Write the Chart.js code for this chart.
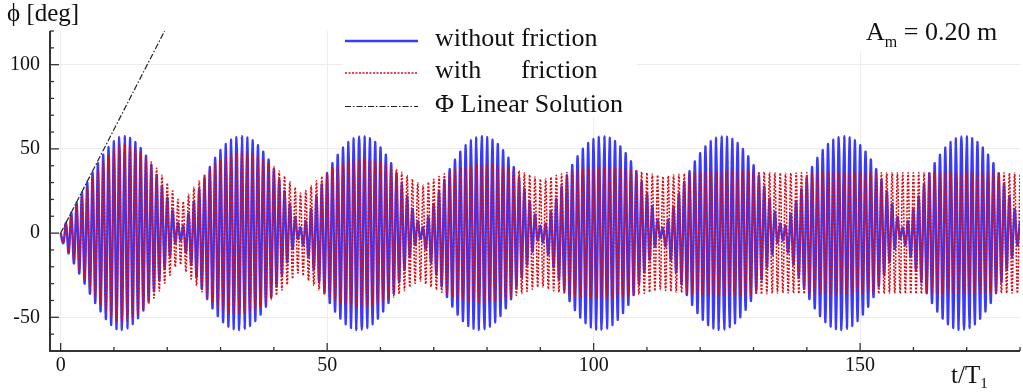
<!DOCTYPE html>
<html>
<head>
    <meta charset="utf-8" />
    <title>phi - t/T1</title>
    <script src="https://cdn.jsdelivr.net/npm/chart.js@4.4.0/dist/chart.umd.min.js"></script>
    <style>
        body { margin: 0; background: #fff; }
        canvas { display: block; }
    </style>
</head>
<body>

<canvas id="phi" width="1023" height="392"></canvas>

<script>
    // peak amplitude of each cycle (peak at t = k, trough at k - 0.5)
    var blueAmp = [
        6, 12, 18, 24, 30, 36, 41.5, 46.5, 51, 54.5, 57, 57.5, 56.5, 54, 50.5, 46, 40.5, 34.5, 28, 21, 13.5, 6,
        4.4, 11.5, 18.8, 26.2, 33, 39.2, 44.7, 49.3, 52.9, 55.5, 57, 57.5, 56.8, 55.1, 52.2, 48.4, 43.7, 38, 31.7, 24.8, 17.3, 9.5, 3.4,
        7.1, 14.2, 21.8, 29, 35.6, 41.5, 46.6, 50.8, 54.1, 56.3, 57.4, 57.4, 56.3, 54.1, 50.8, 46.6, 41.5, 35.6, 29, 21.8, 14.2, 7.1,
        3.4, 9.6, 17.3, 24.7, 31.7, 38, 43.6, 48.4, 52.2, 55.1, 56.8, 57.5, 57, 55.5, 52.9, 49.2, 44.7, 39.2, 33, 26.2, 18.8, 11.1, 4.4,
        5.6, 12.7, 20.3, 27.6, 34.3, 40.4, 45.7, 50.1, 53.5, 55.9, 57.2, 57.4, 56.6, 54.6, 51.5, 47.5, 42.6, 36.8, 30.4, 23.3, 15.8, 8,
        3, 8, 15.8, 23.3, 30.4, 36.8, 42.6, 47.5, 51.5, 54.6, 56.6, 57.4, 57.2, 55.9, 53.5, 50, 45.6, 40.3, 34.3, 27.6, 20.3, 12.7, 5.7,
        4.4, 11.5, 18.8, 26.2, 33, 39.2, 44.7, 49.3, 52.9, 55.5, 57, 57.5, 56.8, 55.1, 52.2, 48.4, 43.7, 38, 31.7, 24.8, 17.3, 9.5, 3.4,
        7.1, 14.2, 21.8, 29, 35.6, 41.5, 46.6, 50.8, 54.1, 56.3, 57.4, 57.4, 56.3, 54.1, 50.8, 46.6, 41.5, 35.6, 29, 21.8, 14.2, 7.1
    ];
    var redAmp = [
        5.5, 11, 16.5, 22, 27.5, 33, 38, 42.5, 46.5, 50, 52.5, 52.8, 52, 50.5, 48.3, 45.6, 42.2, 38.5, 34.3, 29.7, 25, 20,
        18.7, 23, 27.2, 31.1, 34.8, 38.1, 41.1, 43.6, 45.5, 46.9, 47.8, 48, 47.7, 46.9, 45.7, 44, 42, 39.5, 36.8, 33.8, 30.5, 27.1, 23.7,
        25.3, 28.2, 31, 33.6, 36, 38.2, 40, 41.6, 42.7, 43.5, 43.9, 44, 43.7, 43, 42.1, 41, 39.5, 37.9, 36.1, 34.1, 32, 29.8,
        28.4, 30.2, 31.9, 33.6, 35.2, 36.6, 37.9, 38.9, 39.8, 40.5, 40.8, 41, 40.9, 40.7, 40.2, 39.6, 38.9, 38, 37, 35.8, 34.6, 33.3, 32,
        32.1, 33.2, 34.2, 35.1, 36, 36.8, 37.5, 38, 38.5, 38.8, 39, 39, 38.9, 38.7, 38.4, 38, 37.6, 37, 36.4, 35.7, 35, 34.3,
        33.5, 34, 34.5, 34.9, 35.3, 35.7, 36.1, 36.4, 36.6, 36.8, 36.9, 37, 37, 36.9, 36.9, 36.8, 36.7, 36.6, 36.4, 36.2, 36, 35.8, 35.6,
        35.5, 35.6, 35.7, 35.8, 35.9, 36, 36.1, 36.2, 36.2, 36.3, 36.3, 36.3, 36.2, 36.2, 36.1, 36.1, 36, 36, 35.9, 35.9, 35.8, 35.8, 35.8,
        35.8, 35.8, 35.9, 35.9, 36, 36, 36, 36, 36, 35.9, 35.9, 35.9, 35.8, 35.8, 35.8, 35.7, 35.7, 35.7, 35.7, 35.6, 35.6, 35.6
    ];
    // linear solution (straight line from the origin, leaves the plot at the top)
    var linT = [0, 19.5];
    var linPhi = [0, 120];

    var serif = '"Liberation Serif", "Times New Roman", "DejaVu Serif", serif';

    function oscil(amp) {
        var pts = [{x: 0, y: 0}];
        for (var k = 1; k <= amp.length; k++) {
            pts.push({x: k - 0.5, y: -amp[k - 1]});
            pts.push({x: k, y: amp[k - 1]});
        }
        return pts;
    }

    var linPts = [];
    for (var i = 0; i < linT.length; i++) linPts.push({x: linT[i], y: linPhi[i]});

    var blueCol = 'rgba(40,40,255,0.92)';
    var redCol = '#dd0a14';
    var blackCol = '#222';

    // axes, inward ticks, titles, legend
    var deco = {
        id: 'deco',
        afterDatasetsDraw: function (chart) {
            var ctx = chart.ctx, a = chart.chartArea, sx = chart.scales.x, sy = chart.scales.y;
            ctx.save();
            ctx.strokeStyle = '#333';
            ctx.lineWidth = 2;
            ctx.beginPath();
            ctx.moveTo(a.left, a.top);
            ctx.lineTo(a.left, a.bottom);
            ctx.lineTo(a.right, a.bottom);
            ctx.stroke();

            ctx.lineWidth = 1.3;
            sx.ticks.forEach(function (t) {
                var px = sx.getPixelForValue(t.value);
                var len = t.value % 50 === 0 ? 8 : 4;
                ctx.beginPath();
                ctx.moveTo(px, a.bottom);
                ctx.lineTo(px, a.bottom - len);
                ctx.stroke();
            });
            sy.ticks.forEach(function (t) {
                var py = sy.getPixelForValue(t.value);
                var len = t.value % 50 === 0 ? 9 : 4;
                ctx.beginPath();
                ctx.moveTo(a.left, py);
                ctx.lineTo(a.left + len, py);
                ctx.stroke();
            });

            ctx.fillStyle = '#111';
            ctx.textBaseline = 'alphabetic';
            ctx.textAlign = 'left';

            // y title
            ctx.font = '25px ' + serif;
            ctx.fillText('ϕ [deg]', 7, 21);

            // x title
            ctx.font = '25px ' + serif;
            ctx.fillText('t/T', 951, 383);
            var w = ctx.measureText('t/T').width;
            ctx.font = '15px ' + serif;
            ctx.fillText('1', 951 + w, 388);

            // A_m label
            ctx.fillStyle = '#fff';
            ctx.fillRect(856, 18, 150, 34);
            ctx.fillStyle = '#111';
            ctx.font = '26px ' + serif;
            ctx.fillText('A', 866, 40);
            var xa = 866 + ctx.measureText('A').width;
            ctx.font = '16px ' + serif;
            ctx.fillText('m', xa, 46.5);
            xa += ctx.measureText('m').width;
            ctx.font = '26px ' + serif;
            ctx.fillText(' = 0.20 m', xa, 40);

            // legend
            ctx.fillStyle = '#fff';
            ctx.fillRect(343, 18, 294, 99);
            var rows = [
                {y: 41, col: blueCol, w: 2.4, dash: []},
                {y: 73, col: redCol, w: 1.6, dash: [2, 1.5]},
                {y: 106.5, col: blackCol, w: 1.2, dash: [6, 2, 1.5, 2]}
            ];
            rows.forEach(function (r) {
                ctx.strokeStyle = r.col;
                ctx.lineWidth = r.w;
                ctx.setLineDash(r.dash);
                ctx.beginPath();
                ctx.moveTo(345, r.y);
                ctx.lineTo(418, r.y);
                ctx.stroke();
            });
            ctx.setLineDash([]);
            ctx.fillStyle = '#111';
            ctx.font = '26px ' + serif;
            ctx.fillText('without friction', 435, 45.5);
            var fx = 435 + ctx.measureText('without ').width;
            ctx.fillText('with', 435, 78);
            ctx.fillText('friction', fx, 78);
            ctx.fillText('Φ Linear Solution', 435, 111.5);
            ctx.restore();
        }
    };

    var ctx = document.getElementById('phi').getContext('2d');
    var phiChart = new Chart(ctx, {
        type: 'line',
        data: {
            datasets: [
                {
                    label: 'Φ Linear Solution',
                    data: linPts,
                    borderColor: blackCol,
                    borderWidth: 1.2,
                    borderDash: [6, 2, 1.5, 2],
                    pointRadius: 0,
                    order: 1
                },
                {
                    label: 'with friction',
                    data: oscil(redAmp),
                    borderColor: redCol,
                    borderWidth: 1.6,
                    borderDash: [2, 1.5],
                    pointRadius: 0,
                    tension: 0.35,
                    order: 2
                },
                {
                    label: 'without friction',
                    data: oscil(blueAmp),
                    borderColor: blueCol,
                    borderWidth: 2.4,
                    pointRadius: 0,
                    tension: 0.35,
                    order: 3
                }
            ]
        },
        options: {
            responsive: false,
            animation: false,
            events: [],
            layout: { padding: { top: 31, left: 0, right: 0, bottom: 0 } },
            plugins: { legend: { display: false }, tooltip: { enabled: false } },
            scales: {
                x: {
                    type: 'linear',
                    min: -2,
                    max: 180,
                    afterFit: function (s) { s.height = 41; },
                    border: { display: false },
                    grid: {
                        drawTicks: false,
                        color: function (c) { return c.tick && c.tick.value % 50 === 0 ? '#ececec' : 'rgba(0,0,0,0)'; }
                    },
                    ticks: {
                        stepSize: 10,
                        includeBounds: false,
                        autoSkip: false,
                        maxRotation: 0,
                        padding: 3,
                        color: '#111',
                        font: { family: serif, size: 20 },
                        callback: function (v) { return v % 50 === 0 ? String(v) : ''; }
                    }
                },
                y: {
                    min: -70,
                    max: 120,
                    afterFit: function (s) { s.width = 50; },
                    border: { display: false },
                    grid: {
                        drawTicks: false,
                        color: function (c) { return c.tick && c.tick.value % 50 === 0 ? '#ececec' : 'rgba(0,0,0,0)'; }
                    },
                    ticks: {
                        stepSize: 10,
                        includeBounds: false,
                        autoSkip: false,
                        padding: 10,
                        color: '#111',
                        font: { family: serif, size: 20 },
                        callback: function (v) { return v % 50 === 0 ? String(v) : ''; }
                    }
                }
            }
        },
        plugins: [deco]
    });
</script>

</body>
</html>
